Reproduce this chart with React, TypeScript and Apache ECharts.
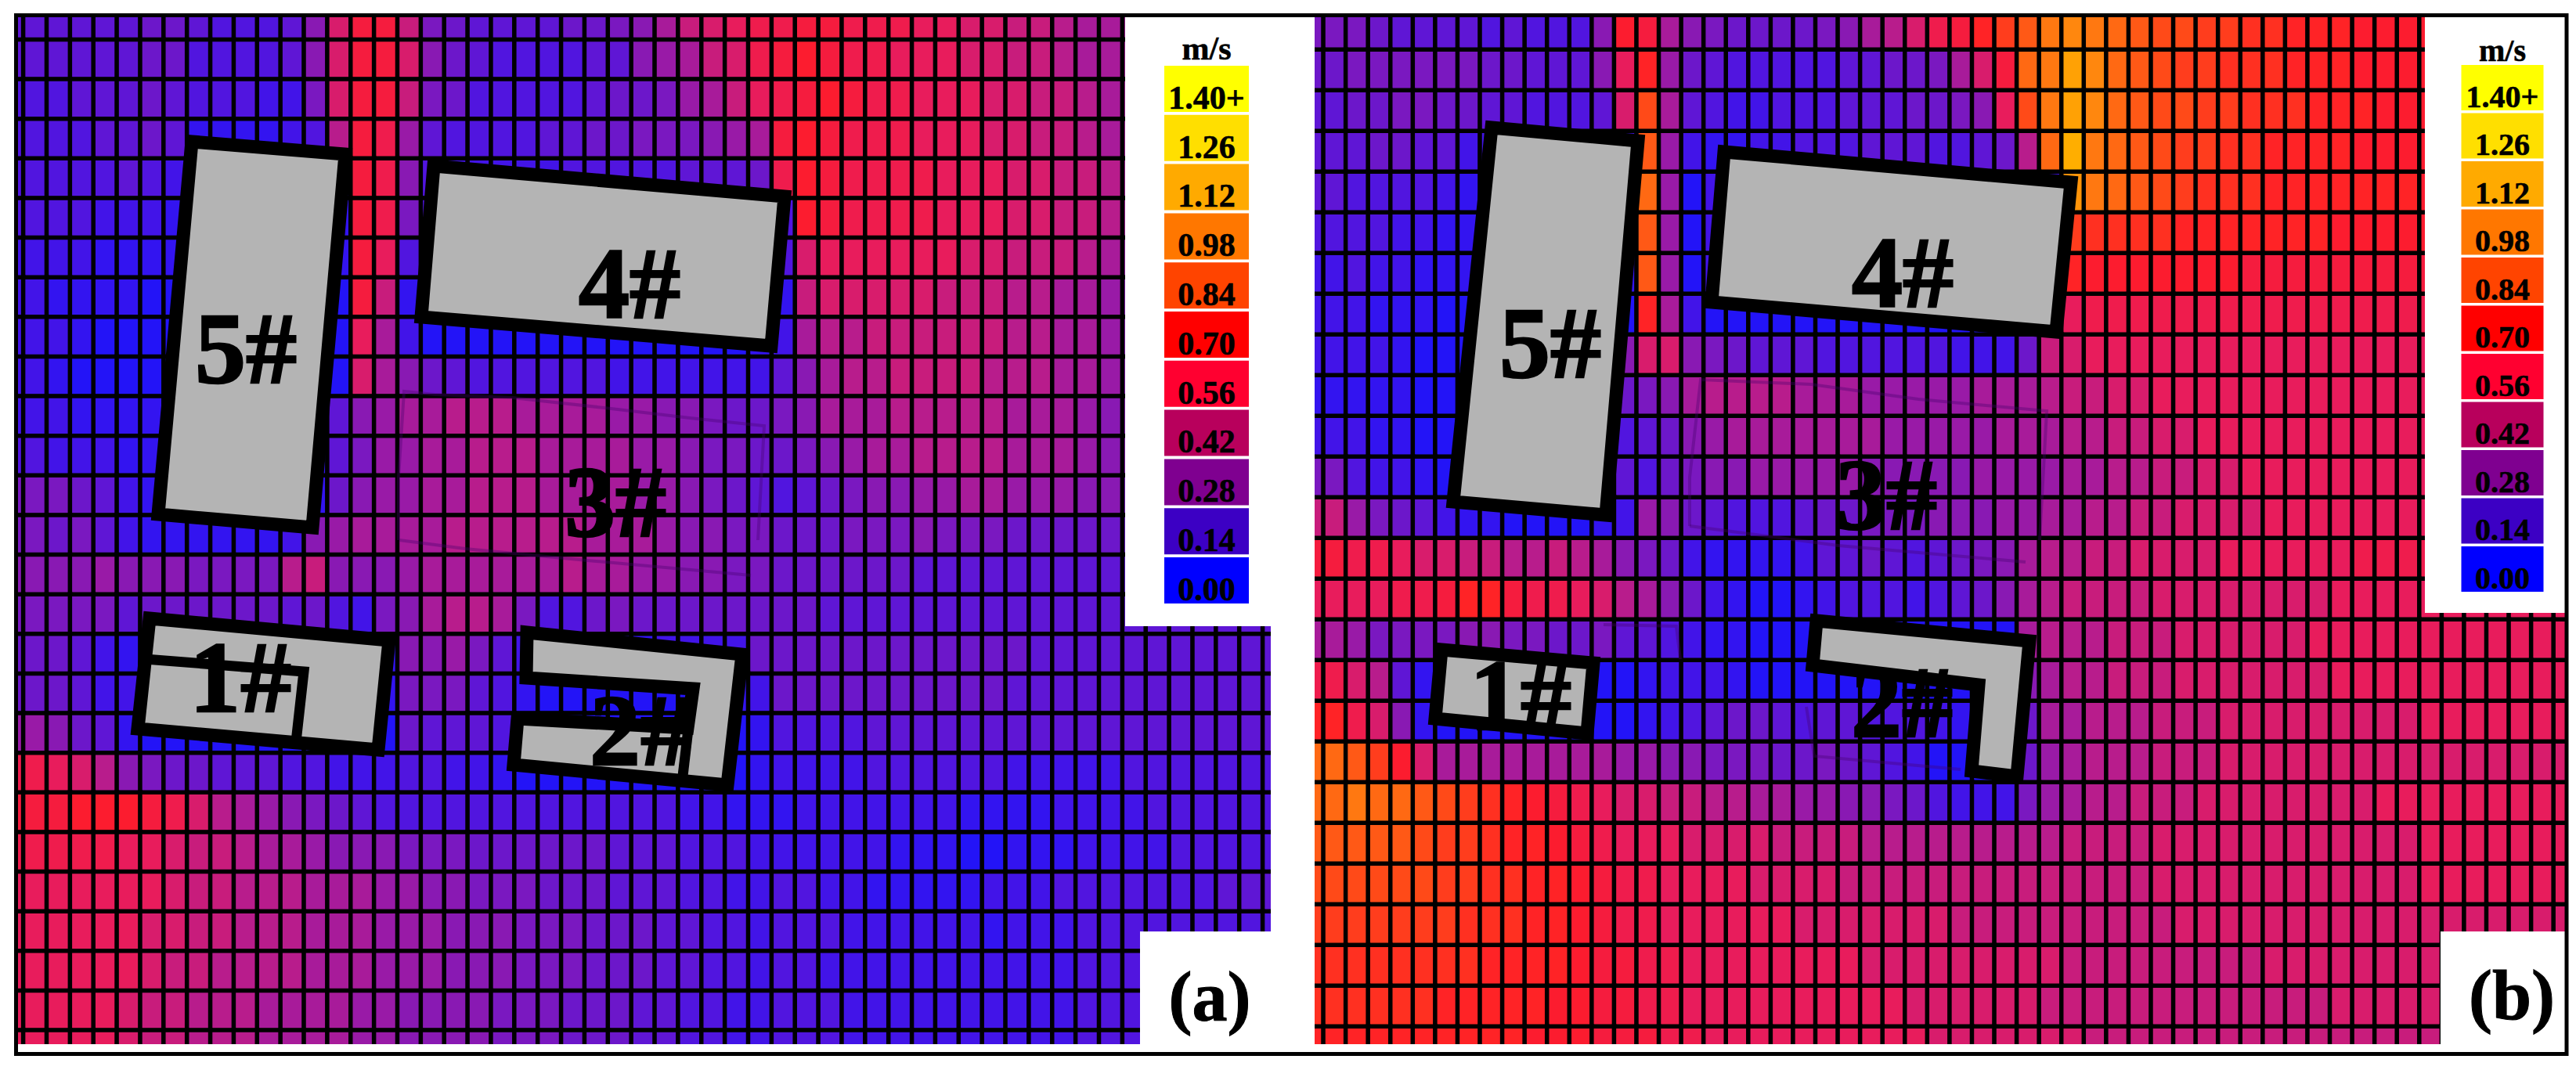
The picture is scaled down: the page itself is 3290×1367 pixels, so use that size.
import React, { useEffect, useRef } from "react";
import * as echarts from "echarts";

// Wind speed levels: one character per cell, base 36, 1 unit = 0.04 m/s.
const panelARows = [
  "5555566544458 dggc 765555667 8acdeffggfffeeddccbaa aaaaaa",
  "5555566444458 dggd 865444455 89acdfghgffeeeddccbaa aaaaaa",
  "4455565444337 dggc 764444456 679acefghgffeeeddccba aaaaaa",
  "4445565222234 bgf9 544445566 77789aghgfffeeeddccba aaaaaa",
  "4444543 3333333 gf8 433333444445556 fhgffffeeeddccb aaaaaa",
  "4443332 2222222 gf7 4444444444444444 hgffffeeeddccb aaaaaa",
  "3332222 2222222 ge4 4444444444444444 deeeeeeddcccba 999999",
  "3222211 1111111 gc2 2222222222222222 cdddddcccbbaa9 888888",
  "3321111 1111111 ea3 1111111111111123 abbccccccbbaa9 888888",
  "3211111 1111111 da8 6544444433333335 8abbccccbbbaa9 888888",
  "3322222 222222 5 89aabbbaaaa99887667 8aaabbbbbaaa98 888888",
  "4333222 222222 5 799aabbbaaaa9987766 789aabbbbaaa98 888888",
  "7765322 222222 6 899aabbbaaaa9987654 5678899aa99988 777777",
  "7675322222238 9aaaabbbbbba aa98877666777877766666 666666",
  "88898887777 bc 8889aaaaaaba a998877666666555555555 555555",
  "7777566666656 4378abba7446 7666666665555555555555 555555",
  "66532 22222222222 88975 3322223333 6666666666665555555555",
  "66533 22222222222 77754 2111111112 3 666666666655555555555",
  "98652 11111111111 65554 1111111111 2 444455555555555555555",
  "fedb8 76655544333 44332 1111111111 2333344444433333444444",
  "gghhhgfdba987654 4444444444443322 233333332222333344444",
  "ffffeedccbaa9888 7776666665554443 333332221122233334444",
  "eeeeeedccbbbaaa9 9887776665554433 443322222333444444455",
  "eeeeeddccbbbaaa9 9988877766655443 444333333233344444444",
  "eeeeedccbbbbaaa9 9988877766655443 443333333333344444444",
  "eeeedccbbbaaaa99 8888777666554433 444333333333344444444",
];

const panelBRows = [
  "7765555454448 hga87666678abdfgikmo ponmllkkjjiiihhh hhhhhh",
  "6777777665558 ei96544444556 67adg norpnmlkkjjjiiihhh hhhhhh",
  "5667766554445 dla5433444555667 8 elorpnmllkkjjjiiihh hhhhhh",
  "5566553 3333333 m93 22334445554456 bnsonmlkkjjiiiihhh hhhhhh",
  "5444432 2222222 n91 3333333333333333 qonmlkjjjiiiiiii hhhhhh",
  "4443322 2222222 m91 3333333333333333 kjjjjiiiiiiihhhh hhhhhh",
  "3433222 2222222 m91 3333333333333333 ihhhhhhhgggggggg gggggg",
  "3322211 1111111 ia3 1111111111111111 efffffffffffffff ffffff",
  "3332111 1111118 dd8 76555444444333 6cdeeeeeeeeeeeeeee eeeeee",
  "2222111 1111116 78a bbbbaaa99999aaab ccddeeeeeeeeeeee eeeeee",
  "3322111 1111114 568 9aaaaaaa99999aaa bbccddeeeeeeeeee eeeeee",
  "7433211 1111115 467 8899999888889999 aabbccddeeeeeeee eeeeee",
  "c97653221111 23 986544456677788899a abbccddddeeeeeee eeeeee",
  "gffeddccbbcba8763 22223556545678abb ccddddeeeeeefff ffffff",
  "eeeffgiigffedba86 32112344434568abc cccddddddddeeee eeeeee",
  "a9777788776675543 2211 1111111111 abbbcccddddddeeeee eeeeee",
  "fdb52 2222222 112333211 1111111111 8abbcccdddddddeeee eeeeee",
  "ifd82 1111111 112345665 4554443222 6aabbbcccddddddddd eeeeee",
  "nmkhdaaaaaaaa9988 77766765431112 69abbbcccddddddddd dddddd",
  "nonnmlkjihgfeddcc bbaa9988764333 79abbcccddddddddee eeeeee",
  "mmmmlkkjiihgfeeed dddccccbbbbbbbbbc cccdddddddddddd eeeeee",
  "lllllkkjjiihgffee eeddddccccccccccc cccdddddddddddd eeeeee",
  "kkkkkkjjjiihgffee eeeedddddddcccccc ccccddddddddddd dddddd",
  "jjjjjjjiiiihggffe eeeeeeedddddddddc ccccccccddddddd dddddd",
  "jjjjjiiiiihhggffe eeeeeeeeeddddddcc cccccccccccdddd dddddd",
  "iiiiiiiiihhhgggff eeeeeeeeeeddddddd ccccccccccccccc cccccc",
];

const legendLabels = ["1.40+", "1.26", "1.12", "0.98", "0.84", "0.70", "0.56", "0.42", "0.28", "0.14", "0.00"];
const legendColors = ["#ffff00", "#ffdf00", "#ffaa00", "#ff7700", "#ff4400", "#ff0000", "#ff0030", "#b8005c", "#7f0090", "#3c00c4", "#0000ff"];
const cellColors = ["#1414ff", "#4a14e4", "#7a18c0", "#b01c94", "#e81c5c", "#ff1c28", "#ff4a18", "#ff8010", "#ffae00", "#ffdc00", "#ffff00"];

const SERIF = '"Liberation Serif", "Times New Roman", serif';
const Z = 100;

function decode(rows: string[], cols: number): number[][] {
  return rows.map((r) => {
    const clean = r.replace(/ /g, "");
    const padded = clean.padEnd(cols, clean[clean.length - 1]).slice(0, cols);
    return padded.split("").map((c) => parseInt(c, 36) * 0.04);
  });
}

function toCells(m: number[][], padBottom: boolean) {
  // one sliver column each side of the grid, and optionally a sliver row below
  const full = m.map((r) => [r[0], ...r, r[r.length - 1]]);
  if (padBottom) full.push(full[full.length - 1]);
  const out: number[][] = [];
  full.forEach((r, y) => r.forEach((v, x) => out.push([x, y, +v.toFixed(2)])));
  return { out, nx: full[0].length, ny: full.length };
}

const rect = (x: number, y: number, w: number, h: number, fill = "#fff", z = Z) => ({
  type: "rect", z, silent: true, shape: { x, y, width: w, height: h }, style: { fill },
});
const building = (pts: number[][], w = 17) => ({
  type: "polygon", z: Z + 2, silent: true, shape: { points: pts },
  style: { fill: "#b4b4b4", stroke: "#000", lineWidth: w, lineJoin: "miter" },
});
const bar = (pts: number[][], w = 13) => ({
  type: "polyline", z: Z + 3, silent: true, shape: { points: pts },
  style: { fill: "none", stroke: "#000", lineWidth: w, lineJoin: "miter" },
});
const faint = (pts: number[][]) => ({
  type: "polyline", z: Z + 1, silent: true, shape: { points: pts },
  style: { fill: "none", stroke: "rgba(70,0,110,0.35)", lineWidth: 4 },
});
const label = (text: string, x: number, y: number, size = 130, weight = 2.5) => ({
  type: "text", z: Z + 5, silent: true,
  style: { text, x, y, fill: "#000", stroke: "#000", lineWidth: weight, align: "center", verticalAlign: "middle", font: `bold ${size}px ${SERIF}` },
});

function legend(cx: number, w: number, top: number, step: number, h: number, headY: number, size: number) {
  const out: any[] = [label("m/s", cx, headY, size, 0.6)];
  legendLabels.forEach((t, i) => {
    const y = top + i * step;
    out.push(rect(cx - w / 2, y, w, h, legendColors[i], Z + 1));
    out.push(label(t, cx, y + h - 4 - size * 0.34, size, 0.6));
  });
  return out;
}

export default function App() {
  const ref = useRef<HTMLDivElement>(null);
  useEffect(() => {
    document.body.style.margin = "0";
    document.body.style.background = "#fff";
    const chart = echarts.init(ref.current!, undefined, { renderer: "svg", width: 3290, height: 1367 });
    const a = toCells(decode(panelARows, 53), true);
    const b = toCells(decode(panelBRows, 55), false);
    const stepAx = 29.92, stepAy = 51.7, stepBx = 29.27, stepBy = 52;
    const axisOff = { show: false };
    const catAxis = (n: number, idx: number, inverse = false) => ({
      type: "category", gridIndex: idx, inverse, data: Array.from({ length: n }, (_, i) => String(i)),
      axisLine: axisOff, axisTick: axisOff, axisLabel: axisOff, splitLine: axisOff, splitArea: axisOff,
    });
    const heat = (i: number, data: number[][]) => ({
      type: "heatmap", xAxisIndex: i, yAxisIndex: i, data, progressive: 0, silent: true,
      itemStyle: { borderColor: "#000", borderWidth: 5.5 }, emphasis: { disabled: true },
    });
    chart.setOption({
      animation: false,
      backgroundColor: "#fff",
      tooltip: { show: false },
      grid: [
        { left: 27 - stepAx, top: 36 - stepAy, width: stepAx * a.nx, height: stepAy * a.ny },
        { left: 1691 - stepBx, top: 63.5 - stepBy, width: stepBx * b.nx, height: stepBy * b.ny },
      ],
      xAxis: [catAxis(a.nx, 0), catAxis(b.nx, 1)],
      yAxis: [catAxis(a.ny, 0, true), catAxis(b.ny, 1, true)],
      visualMap: { show: false, min: 0, max: 1.4, seriesIndex: [0, 1], dimension: 2, inRange: { color: cellColors } },
      series: [heat(0, a.out), heat(1, b.out)],
      graphic: {
        elements: [
          // panel masks
          rect(0, 0, 3290, 20),
          rect(0, 1334, 3290, 33),
          rect(0, 0, 20, 1367),
          rect(3276, 0, 14, 1367),
          rect(1623, 20, 56, 1330),
          rect(1437, 20, 242, 780),
          rect(1456, 1190, 223, 150),
          rect(3097, 20, 180, 763),
          rect(3117, 1190, 160, 150),
          // outer frame
          { type: "rect", z: Z + 6, silent: true, shape: { x: 20.5, y: 19.5, width: 3257.5, height: 1327 }, style: { fill: "none", stroke: "#000", lineWidth: 5 } },

          // panel (a)
          faint([[509, 690], [509, 610], [516, 500], [555, 504], [654, 508], [772, 521], [881, 534], [976, 544], [968, 690]]),
          faint([[510, 690], [594, 701], [750, 716], [959, 735]]),
          building([[245, 181], [441, 197], [399, 674], [202, 657]]),
          building([[554, 212], [1002, 251], [985, 442], [538, 405]]),
          building([[191, 790], [497, 818], [483, 958], [176, 931]]),
          bar([[185, 842], [388, 858], [378, 948]]),
          building([[673, 808], [948, 836], [929, 1003], [656, 977], [661, 918], [878, 930], [885, 880], [672, 866]]),
          bar([[885, 880], [871, 1000]]),
          label("5#", 314, 445),
          label("4#", 804, 362),
          label("3#", 786, 641),
          label("1#", 307, 865),
          label("2#", 818, 933),
          label("(a)", 1545, 1273, 90, 1),
          ...legend(1541, 108, 84, 62.8, 59, 62, 42),

          // panel (b)
          faint([[2158, 672], [2158, 610], [2172, 485], [2313, 491], [2450, 510], [2614, 525], [2605, 690]]),
          faint([[2158, 672], [2348, 697], [2587, 718]]),
          faint([[2307, 903], [2317, 966], [2504, 983]]),
          faint([[2048, 798], [2141, 800], [2146, 842]]),
          building([[1905, 163], [2092, 180], [2051, 658], [1856, 641]]),
          building([[2202, 194], [2645, 233], [2626, 424], [2186, 386]]),
          building([[1841, 830], [2035, 847], [2027, 937], [1833, 918]]),
          building([[2320, 793], [2592, 819], [2576, 992], [2518, 985], [2527, 875], [2315, 850]]),
          label("5#", 1980, 438),
          label("4#", 2430, 348),
          label("3#", 2409, 632),
          label("1#", 1942, 888),
          label("2#", 2429, 897),
          label("(b)", 3208, 1271, 90, 1),
          ...legend(3196, 105, 83, 61.5, 58, 64, 40),
        ],
      },
    });
    return () => chart.dispose();
  }, []);
  return <div ref={ref} style={{ position: "fixed", left: 0, top: 0, width: 3290, height: 1367 }} />;
}
